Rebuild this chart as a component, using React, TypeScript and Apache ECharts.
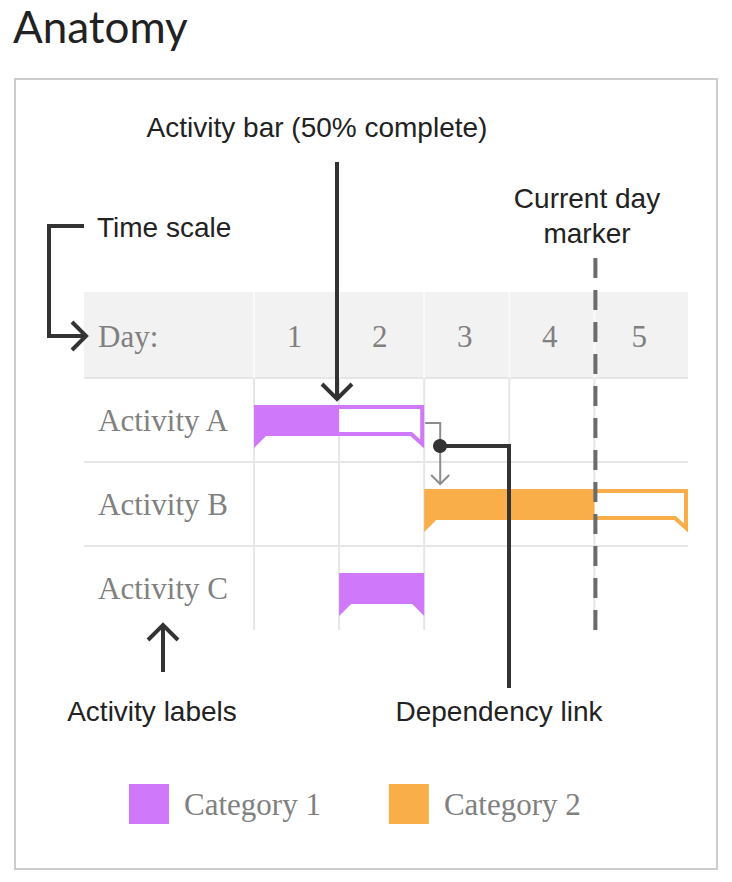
import React, { useEffect, useRef } from "react";
import * as echarts from "echarts";

// ---- data ----
const activities = ["Activity A", "Activity B", "Activity C"];
const activityStart = [0, 2, 1]; // day offset where each bar begins
const activityEnd = [2, 5.1, 2]; // day offset where each bar ends
const activityProgress = [0.5, 0.645, 1]; // share of the bar that is filled
const activityCategory = ["Category 1", "Category 2", "Category 1"];
const categoryNames = ["Category 1", "Category 2"];
const categoryColors = ["#CF78F9", "#F9AE49"];
const dayLabels = ["1", "2", "3", "4", "5"];
const dayStarts = [0, 1, 2, 3, 4];
const axisMax = 5.1;
const currentDay = 4;
const dependencies = [[0, 1]]; // Activity A -> Activity B

const SERIF = "'Liberation Serif', 'Times New Roman', serif";
const SANS = "'Liberation Sans', Arial, sans-serif";
const INK = "#333333";

function barRenderer(color: string) {
  return (params: any, api: any) => {
    const s = api.coord([api.value(0), api.value(1)]);
    const e = api.coord([api.value(2), api.value(1)]);
    const prog = api.value(3);
    const cy = s[1];
    const top = cy - 15;
    const bb = cy + 16;
    const tip = cy + 28;
    const n = 12;
    const x0 = s[0];
    const x1 = e[0];
    const p = x0 + (x1 - x0) * prog;
    const children: any[] = [];
    if (prog < 1) {
      children.push({
        type: "polygon",
        shape: {
          points: [
            [p - 2, top + 2],
            [x1 - 2, top + 2],
            [x1 - 2, tip - 4],
            [x1 - n - 1, bb - 2],
            [p - 2, bb - 2],
          ],
        },
        style: { fill: "#ffffff", stroke: color, lineWidth: 4, lineJoin: "miter" },
      });
      children.push({
        type: "polygon",
        shape: { points: [[x0, top], [p, top], [p, bb], [x0 + n, bb], [x0, tip]] },
        style: { fill: color },
      });
    } else {
      children.push({
        type: "polygon",
        shape: {
          points: [[x0, top], [x1, top], [x1, tip], [x1 - n, bb], [x0 + n, bb], [x0, tip]],
        },
        style: { fill: color },
      });
    }
    return { type: "group", children };
  };
}

function arrowHead(tx: number, ty: number, dir: "down" | "up" | "right", w: number, h: number) {
  let pts: number[][];
  if (dir === "down") pts = [[tx - w, ty - h], [tx, ty], [tx + w, ty - h]];
  else if (dir === "up") pts = [[tx - w, ty + h], [tx, ty], [tx + w, ty + h]];
  else pts = [[tx - h, ty - w], [tx, ty], [tx - h, ty + w]];
  return pts;
}

function buildOption(): any {
  const catSeries = categoryNames.map((cat, ci) => ({
    type: "custom",
    name: cat,
    itemStyle: { color: categoryColors[ci] },
    encode: { x: [0, 2], y: 1 },
    data: activities
      .map((_, i) => i)
      .filter((i) => activityCategory[i] === cat)
      .map((i) => [activityStart[i], i, activityEnd[i], activityProgress[i]]),
    renderItem: barRenderer(categoryColors[ci]),
    z: 5,
  }));

  const annotText = (text: string, x: number, y: number, align: string) => ({
    type: "text",
    x,
    y,
    z: 100,
    style: {
      text,
      fill: "#222222",
      fontFamily: SANS,
      fontSize: 28,
      align,
      verticalAlign: "middle",
    },
  });
  const annotLine = (points: number[][]) => ({
    type: "polyline",
    z: 100,
    shape: { points },
    style: { stroke: INK, lineWidth: 4, fill: null, lineJoin: "miter" },
  });

  return {
    animation: false,
    backgroundColor: "#ffffff",
    color: categoryColors,
    grid: { left: 254, top: 378, width: 434, height: 252 },
    xAxis: {
      type: "value",
      min: 0,
      max: axisMax,
      show: false,
    },
    yAxis: {
      type: "category",
      data: activities,
      inverse: true,
      axisLine: { show: false },
      axisTick: { show: false },
      splitLine: { show: false },
      axisLabel: {
        align: "left",
        margin: 156,
        fontFamily: SERIF,
        fontSize: 31,
        color: "#808080",
      },
    },
    legend: {
      data: categoryNames,
      left: 129,
      top: 784,
      padding: 0,
      icon: "rect",
      itemWidth: 40,
      itemHeight: 40,
      itemGap: 68,
      selectedMode: false,
      textStyle: {
        fontFamily: SERIF,
        fontSize: 31,
        color: "#808080",
        padding: [0, 0, 0, 10],
      },
    },
    graphic: [
      {
        type: "text",
        x: 13,
        y: 26,
        style: {
          text: "Anatomy",
          fill: "#222222",
          fontFamily: "Lato, 'Noto Sans', sans-serif",
          fontSize: 44,
          verticalAlign: "middle",
        },
      },
      {
        type: "rect",
        z: 0,
        shape: { x: 15, y: 79, width: 702, height: 790 },
        style: { fill: null, stroke: "#cccccc", lineWidth: 2 },
      },
      {
        type: "rect",
        z: 0,
        shape: { x: 84, y: 292, width: 604, height: 86 },
        style: { fill: "#f2f2f2" },
      },
      {
        type: "text",
        x: 98,
        y: 336,
        z: 1,
        style: {
          text: "Day:",
          fill: "#808080",
          fontFamily: SERIF,
          fontSize: 31,
          verticalAlign: "middle",
        },
      },
      // Activity bar annotation
      annotText("Activity bar (50% complete)", 317, 127, "center"),
      annotLine([[337, 162], [337, 398]]),
      annotLine(arrowHead(337, 399, "down", 15, 15)),
      // Time scale annotation
      annotText("Time scale", 97, 227, "left"),
      annotLine([[84, 226], [49, 226], [49, 336], [85, 336]]),
      annotLine(arrowHead(86, 336, "right", 14, 14)),
      // Current day marker annotation
      annotText("Current day", 587, 198, "center"),
      annotText("marker", 587, 233, "center"),
      // Activity labels annotation
      annotText("Activity labels", 152, 711, "center"),
      annotLine([[163, 672], [163, 626]]),
      annotLine(arrowHead(163, 625, "up", 15, 15)),
      // Dependency link annotation
      annotText("Dependency link", 499, 711, "center"),
      annotLine([[440, 446], [509, 446], [509, 688]]),
      {
        type: "circle",
        z: 101,
        shape: { cx: 440, cy: 446, r: 7 },
        style: { fill: INK },
      },
    ],
    series: [
      {
        type: "custom",
        name: "rows",
        encode: { x: 0, y: 1 },
        data: activities.map((_, i) => [0, i]),
        z: 1,
        renderItem: (params: any, api: any) => {
          const cs = params.coordSys;
          const cy = api.coord([0, api.value(1)])[1];
          const band = api.size([0, 1])[1];
          const y = cy - band / 2;
          return {
            type: "line",
            shape: { x1: cs.x - 170, y1: y, x2: cs.x + cs.width, y2: y },
            style: { stroke: "#e6e6e6", lineWidth: 2 },
          };
        },
      },
      {
        type: "custom",
        name: "days",
        encode: { x: 0, y: 1 },
        data: dayStarts.map((d, i) => [d, i]),
        z: 1,
        renderItem: (params: any, api: any) => {
          const cs = params.coordSys;
          const i = api.value(1);
          const d = api.value(0);
          const next = i + 1 < dayStarts.length ? dayStarts[i + 1] : axisMax;
          const x = api.coord([d, 0])[0];
          const xn = api.coord([next, 0])[0];
          const headerTop = cs.y - 86;
          return {
            type: "group",
            children: [
              {
                type: "line",
                shape: { x1: x, y1: headerTop, x2: x, y2: cs.y },
                style: { stroke: "#fafafa", lineWidth: 2 },
              },
              {
                type: "line",
                shape: { x1: x, y1: cs.y, x2: x, y2: cs.y + cs.height },
                style: { stroke: "#e6e6e6", lineWidth: 2 },
              },
              {
                type: "text",
                x: (x + xn) / 2 - 2,
                y: cs.y - 42,
                style: {
                  text: dayLabels[i],
                  fill: "#808080",
                  fontFamily: SERIF,
                  fontSize: 31,
                  align: "center",
                  verticalAlign: "middle",
                },
              },
            ],
          };
        },
      },
      ...catSeries,
      {
        type: "custom",
        name: "dependency",
        encode: { x: [0, 2], y: [1, 3] },
        data: dependencies.map(([f, t]) => [activityEnd[f], f, activityStart[t], t]),
        z: 6,
        renderItem: (params: any, api: any) => {
          const a = api.coord([api.value(0), api.value(1)]);
          const b = api.coord([api.value(2), api.value(3)]);
          const sx = a[0] + 1;
          const sy = a[1] + 3;
          const ex = sx + 15;
          const ey = b[1] - 20;
          return {
            type: "group",
            children: [
              {
                type: "polyline",
                shape: { points: [[sx, sy], [ex, sy], [ex, ey]] },
                style: { stroke: "#8c8c8c", lineWidth: 2, fill: null },
              },
              {
                type: "polyline",
                shape: { points: arrowHead(ex, ey, "down", 9, 9) },
                style: { stroke: "#8c8c8c", lineWidth: 2, fill: null },
              },
            ],
          };
        },
      },
      {
        type: "custom",
        name: "current day",
        encode: { x: 0, y: 1 },
        data: [[currentDay, 0]],
        z: 7,
        renderItem: (params: any, api: any) => {
          const cs = params.coordSys;
          const x = api.coord([api.value(0), 0])[0] + 1;
          return {
            type: "line",
            shape: { x1: x, y1: cs.y - 120, x2: x, y2: cs.y + cs.height + 2 },
            style: { stroke: "#6b6b6b", lineWidth: 4, lineDash: [20, 12] },
          };
        },
      },
    ],
  };
}

export default function App() {
  const ref = useRef<HTMLDivElement>(null);
  useEffect(() => {
    const chart = echarts.init(ref.current!, null, { renderer: "svg" });
    chart.setOption(buildOption());
    return () => chart.dispose();
  }, []);
  return (
    <div
      ref={ref}
      style={{ position: "fixed", left: 0, top: 0, width: 732, height: 882, background: "#ffffff" }}
    />
  );
}
